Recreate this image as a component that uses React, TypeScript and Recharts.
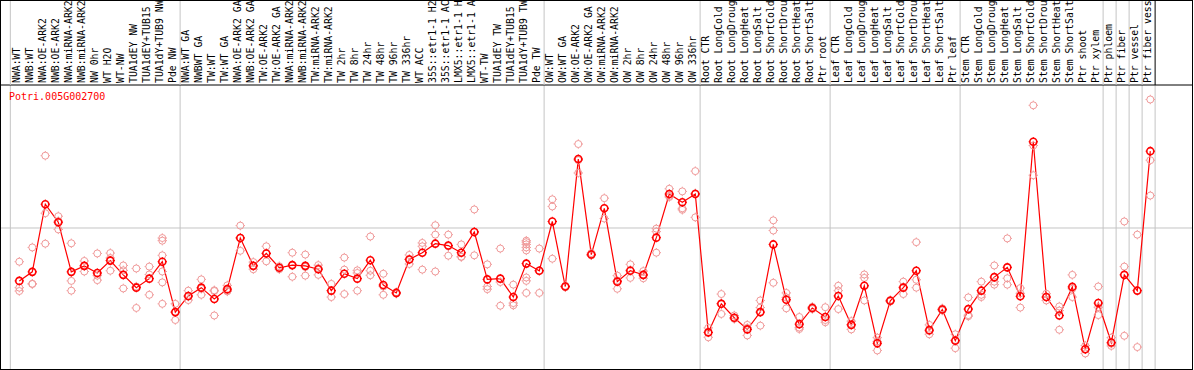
import React from 'react';
import { ComposedChart, Line, Scatter, XAxis, YAxis, ReferenceLine } from 'recharts';

const geneId = 'Potri.005G002700';

const categories = [
  'NWA:WT', 'NWB:WT', 'NWA:OE-ARK2', 'NWB:OE-ARK2', 'NWA:miRNA-ARK2', 'NWB:miRNA-ARK2',
  'NW 0hr', 'WT H2O', 'WT-NW', 'TUA1dEY NW', 'TUA1dEY+TUB15 NW', 'TUA1dY+TUB9 NW', 'Pde NW',
  'NWA:WT GA', 'NWBWT GA', 'TW:WT', 'TW:WT GA', 'NWA:OE-ARK2 GA', 'NWB:OE-ARK2 GA', 'TW:OE-ARK2',
  'TW:OE-ARK2 GA', 'NWA:miRNA-ARK2 GA', 'NWB:miRNA-ARK2 GA', 'TW:miRNA-ARK2', 'TW:miRNA-ARK2 GA',
  'TW 2hr', 'TW 8hr', 'TW 24hr', 'TW 48hr', 'TW 96hr', 'TW 336hr', 'WT ACC',
  '35S::etr1-1 H2O', '35S::etr1-1 ACC', 'LMX5::etr1-1 H2O', 'LMX5::etr1-1 ACC', 'WT-TW',
  'TUA1dEY TW', 'TUA1dEY+TUB15 TW', 'TUA1dY+TUB9 TW', 'Pde TW',
  'OW:WT', 'OW:WT GA', 'OW:OE-ARK2', 'OW:OE-ARK2 GA', 'OW:miRNA-ARK2', 'OW:miRNA-ARK2 GA',
  'OW 2hr', 'OW 8hr', 'OW 24hr', 'OW 48hr', 'OW 96hr', 'OW 336hr',
  'Root CTR', 'Root LongCold', 'Root LongDrought', 'Root LongHeat', 'Root LongSalt',
  'Root ShortCold', 'Root ShortDrought', 'Root ShortHeat', 'Root ShortSalt', 'Ptr root',
  'Leaf CTR', 'Leaf LongCold', 'Leaf LongDrought', 'Leaf LongHeat', 'Leaf LongSalt',
  'Leaf ShortCold', 'Leaf ShortDrought', 'Leaf ShortHeat', 'Leaf ShortSalt', 'Ptr leaf',
  'Stem CTR', 'Stem LongCold', 'Stem LongDrought', 'Stem LongHeat', 'Stem LongSalt',
  'Stem ShortCold', 'Stem ShortDrought', 'Stem ShortHeat', 'Stem ShortSalt', 'Ptr shoot',
  'Ptr xylem', 'Ptr phloem', 'Ptr fiber', 'Ptr vessel', 'Ptr fiber vessel',
];

const meanValues = [
  237, 261, 441, 393, 261, 277, 258, 291, 253, 219, 243, 288, 154,
  197, 219, 189, 215, 351, 277, 310, 272, 279, 277, 268, 211, 256, 243, 292, 226, 205, 294,
  312, 336, 331, 312, 367, 241, 243, 194, 283, 264,
  395, 222, 561, 307, 430, 235, 264, 253, 352, 468, 446, 468,
  100, 176, 139, 108, 154, 334, 187, 122, 165, 141,
  197, 120, 224, 71, 184, 219, 264, 106, 161, 78,
  162, 211, 247, 273, 196, 607, 194, 145, 221, 55,
  178, 73, 253, 211, 582,
];

const replicateValues = [
  [288, 219, 210], [326, 229, 229], [570, 417, 336], [409, 374, 396], [337, 237, 211],
  [290, 277, 262], [310, 251, 239], [311, 264, 298], [278, 265, 217], [270, 165, 222],
  [275, 254, 200], [351, 344, 305, 262, 233, 176], [176, 133, 154],
  [211, 186, 195], [241, 200, 216], [210, 145, 212], [225, 209, 211], [384, 317, 352],
  [287, 268, 277], [329, 289, 311], [276, 268, 272], [312, 248, 278], [307, 251, 274],
  [279, 253, 271], [229, 194, 211], [299, 202, 267], [265, 258, 211], [355, 264, 252],
  [256, 200, 222], [203, 207, 205], [306, 282, 295], [338, 329, 267], [385, 360, 262],
  [360, 304, 329], [334, 301, 301], [427, 305, 368], [281, 222, 215], [323, 234, 171],
  [227, 178, 172], [344, 340, 334, 326, 318, 246, 237, 205], [323, 205, 264],
  [454, 435, 296], [220, 224, 222], [601, 524, 558], [311, 305, 305], [457, 403, 430],
  [251, 216, 238], [281, 245, 266], [263, 244, 252], [376, 368, 312], [482, 463, 460],
  [475, 430, 426], [529, 406, 470],
  [87, 100, 112], [202, 149, 177], [145, 136, 137], [120, 92, 112], [185, 166, 118],
  [398, 371, 232], [205, 164, 193], [141, 113, 109], [162, 168, 165], [167, 133, 127],
  [224, 211, 162], [130, 108, 121], [254, 245, 185], [86, 52, 76], [182, 186, 184],
  [235, 202, 221], [340, 240, 219], [120, 95, 104], [158, 164, 161], [95, 58, 80],
  [193, 146, 143], [235, 194, 200], [278, 235, 227], [350, 244, 227], [218, 166, 204],
  [704, 597, 518], [203, 185, 194], [169, 107, 158], [253, 194, 216], [65, 44, 56],
  [222, 146, 167], [86, 64, 70], [395, 275, 91], [360, 61, 212], [719.5, 558, 464],
];

const yTickValues = [0, 377.7, 719.5];
// index of the last category of each group (a separator follows it)
const groupEnds = [12, 40, 52, 62, 72, 83, 84, 85, 86, 87];
// the label strip only has room for this many characters
const LABEL_CHARS = 14;

const W = 1194;
const H = 370;
const LABEL_H = 85;
const X_DOMAIN: [number, number] = [-1.4846, 90.2077];
const Y_DOMAIN: [number, number] = [0, 758];
const GRID = '#c4c4c4';
const RED = '#ff0000';
const PINK = '#f09a9a';
const FONT = '"DejaVu Sans Mono", monospace';

const separatorPositions = [-0.69, ...groupEnds.map((i) => i + 0.37)];
const meanData = meanValues.map((m, i) => ({ idx: i, mean: m }));
const repData = replicateValues.flatMap((arr, i) => arr.map((v) => ({ idx: i, v })));
const xTicks = [...categories.map((_, i) => i), ...separatorPositions].sort((a, b) => a - b);

const XTick = (props: any) => {
  const { x, y, payload } = props;
  const v = payload.value;
  if (Number.isInteger(v)) {
    return (
      <text
        x={0}
        y={0}
        transform={`translate(${x + 1},${y - 2}) rotate(-90)`}
        fontFamily={FONT}
        fontSize={9.8}
        fill="#000"
        textAnchor="start"
      >
        {categories[v].slice(0, LABEL_CHARS)}
      </text>
    );
  }
  return <line x1={x} x2={x} y1={y - LABEL_H} y2={y} stroke={v > 87 ? '#000' : GRID} strokeWidth={1} />;
};

const YTick = (props: any) => {
  const { x, y, payload } = props;
  const v = payload.value;
  return (
    <text x={x - 28} y={v === 0 ? y - 4.3 : y + 9.5} fontFamily={FONT} fontSize={10} fill="#000" textAnchor="start">
      {String(v)}
    </text>
  );
};

const Marker = ({ cx, cy, color, sw }: any) => {
  if (cx == null || cy == null) return null;
  const r = 3.5;
  const t = 1.2;
  return (
    <g>
      <circle cx={cx} cy={cy} r={r} fill="none" stroke={color} strokeWidth={sw} />
      <path
        d={`M${cx},${cy - r - t}V${cy - r} M${cx},${cy + r}V${cy + r + t} M${cx - r - t},${cy}H${cx - r} M${cx + r},${cy}H${cx + r + t}`}
        stroke={color}
        strokeWidth={1}
      />
    </g>
  );
};

const RepDot = (props: any) => <Marker cx={props.cx} cy={props.cy} color={PINK} sw={1} />;
const MeanDot = (props: any) => <Marker key={props.index} cx={props.cx} cy={props.cy} color={RED} sw={1.6} />;

export default function App() {
  return (
    <div style={{ position: 'absolute', left: 0, top: 0, width: W, height: H, background: '#fff', overflow: 'hidden' }}>
      <ComposedChart width={W} height={H} data={meanData} margin={{ top: 0, right: 2, bottom: 0, left: 0 }}>
        <XAxis
          xAxisId="x"
          dataKey="idx"
          type="number"
          orientation="top"
          height={LABEL_H}
          domain={X_DOMAIN}
          allowDataOverflow
          ticks={xTicks}
          interval={0}
          tick={<XTick />}
          tickLine={false}
          tickSize={0}
          tickMargin={0}
          axisLine={{ stroke: '#000', strokeWidth: 1 }}
        />
        <YAxis
          yAxisId="y"
          type="number"
          orientation="right"
          mirror
          width={0}
          domain={Y_DOMAIN}
          allowDataOverflow
          ticks={yTickValues}
          interval={0}
          tick={<YTick />}
          tickLine={false}
          tickSize={0}
          tickMargin={0}
          axisLine={false}
        />
        <ReferenceLine xAxisId="x" yAxisId="y" y={377.7} stroke={GRID} strokeWidth={1} />
        {separatorPositions.map((s) => (
          <ReferenceLine key={s} xAxisId="x" yAxisId="y" x={s} stroke={GRID} strokeWidth={1} />
        ))}
        <Scatter
          xAxisId="x"
          yAxisId="y"
          data={repData}
          dataKey="v"
          shape={<RepDot />}
          isAnimationActive={false}
        />
        <Line
          xAxisId="x"
          yAxisId="y"
          dataKey="mean"
          stroke={RED}
          strokeWidth={1.2}
          dot={<MeanDot />}
          activeDot={false}
          isAnimationActive={false}
        />
      </ComposedChart>
      <div
        style={{
          position: 'absolute',
          left: 9,
          top: 92,
          fontFamily: FONT,
          fontSize: 10,
          lineHeight: '10px',
          color: RED,
          whiteSpace: 'nowrap',
        }}
      >
        {geneId}
      </div>
      <div
        style={{
          position: 'absolute',
          left: 0,
          top: 0,
          width: 1193,
          height: H,
          boxSizing: 'border-box',
          border: '1px solid #000',
          pointerEvents: 'none',
        }}
      />
    </div>
  );
}
